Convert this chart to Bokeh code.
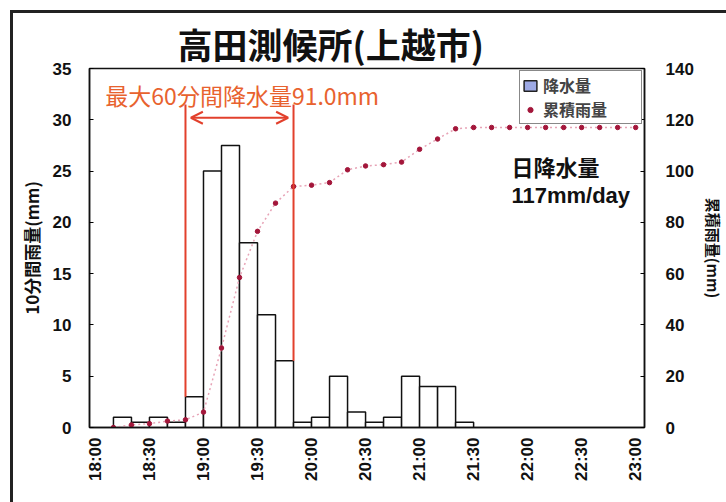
import math
from bokeh.plotting import figure
from bokeh.models import (Range1d, LinearAxis, FixedTicker, SingleIntervalTicker, ColumnDataSource,
                          Legend, LegendItem, Arrow, OpenHead, Label)
from bokeh.embed import file_html
from bokeh.resources import INLINE

# ---------------- data ----------------
bar_times = ["18:20", "18:30", "18:40", "18:50", "19:00", "19:10", "19:20", "19:30", "19:40", "19:50",
             "20:00", "20:10", "20:20", "20:30", "20:40", "20:50", "21:00", "21:10", "21:20", "21:30"]
rain_10min = [1.0, 0.5, 1.0, 0.5, 3.0, 25.0, 27.5, 18.0, 11.0, 6.5,
              0.5, 1.0, 5.0, 1.5, 0.5, 1.0, 5.0, 4.0, 4.0, 0.5]

cum_times = ["18:10", "18:20", "18:30", "18:40", "18:50", "19:00", "19:10", "19:20", "19:30", "19:40",
             "19:50", "20:00", "20:10", "20:20", "20:30", "20:40", "20:50", "21:00", "21:10", "21:20",
             "21:30", "21:40", "21:50", "22:00", "22:10", "22:20", "22:30", "22:40", "22:50", "23:00"]
cum_rain = [0.0, 1.0, 1.5, 2.5, 3.0, 6.0, 31.0, 58.5, 76.5, 87.5,
            94.0, 94.5, 95.5, 100.5, 102.0, 102.5, 103.5, 108.5, 112.5, 116.5,
            117.0, 117.0, 117.0, 117.0, 117.0, 117.0, 117.0, 117.0, 117.0, 117.0]

x_tick_labels = ["18:00", "18:30", "19:00", "19:30", "20:00", "20:30",
                 "21:00", "21:30", "22:00", "22:30", "23:00"]

peak_window = ["18:50", "19:50"]
peak_60min = 91.0
daily_total = 117

title_text = "高田測候所(上越市)"
left_title = "10分間雨量(mm)"
right_title = "累積雨量(mm)"
legend_labels = ["降水量", "累積雨量"]


def to_min(t):
    h, m = t.split(":")
    return int(h) * 60 + int(m) - 18 * 60


JP = "Noto Sans CJK JP"
NUM = "Liberation Sans"
RED = "#e2402c"

p = figure(width=713, height=489, output_backend="svg", toolbar_location=None,
           x_range=Range1d(-3.3, 304.9), y_range=Range1d(0, 35),
           min_border_left=76, min_border_right=74, min_border_top=55, min_border_bottom=75,
           background_fill_color="white", border_fill_color="white",
           styles={"margin-left": "13px", "margin-top": "13px",
                   "outline": "3px solid #222222"})
p.extra_y_ranges = {"cum": Range1d(0, 140)}
p.grid.visible = False
p.outline_line_color = "#111111"
p.outline_line_width = 1.5

# title
p.title.text = title_text
p.title.text_font = JP
p.title.text_font_size = "35px"
p.title.text_font_style = "bold"
p.title.text_color = "#111111"
p.title.align = "left"
p.title.offset = 88
p.title.standoff = 0

# x axis
xa = p.xaxis[0]
ticks = [to_min(t) for t in x_tick_labels]
xa.ticker = FixedTicker(ticks=ticks)
xa.major_label_overrides = {tk: lab for tk, lab in zip(ticks, x_tick_labels)}
xa.major_label_orientation = math.pi / 2
xa.major_label_text_font = NUM
xa.major_label_text_font_style = "bold"
xa.major_label_text_font_size = "17px"
xa.major_label_text_color = "#111111"
xa.major_label_standoff = 10
xa.major_tick_in = 0
xa.major_tick_out = 0
xa.minor_tick_line_color = None
xa.axis_line_color = "#111111"
xa.axis_line_width = 1.5

# left axis
ya = p.yaxis[0]
ya.ticker = SingleIntervalTicker(interval=5)
ya.axis_label = left_title
ya.axis_label_text_font = JP
ya.axis_label_text_font_size = "17px"
ya.axis_label_text_font_style = "bold"
ya.axis_label_text_color = "#111111"
ya.axis_label_standoff = 6
ya.major_label_text_font = NUM
ya.major_label_text_font_style = "bold"
ya.major_label_text_font_size = "17px"
ya.major_label_text_color = "#111111"
ya.major_label_standoff = 14
ya.major_tick_in = 4
ya.major_tick_out = 0
ya.minor_tick_line_color = None
ya.axis_line_color = "#111111"
ya.axis_line_width = 1.5

# right axis
ra = LinearAxis(y_range_name="cum", ticker=SingleIntervalTicker(interval=20))
ra.axis_label = right_title
ra.axis_label_text_font = JP
ra.axis_label_text_font_size = "15px"
ra.axis_label_text_font_style = "bold"
ra.axis_label_text_color = "#111111"
ra.axis_label_standoff = 6
ra.major_label_text_font = NUM
ra.major_label_text_font_style = "bold"
ra.major_label_text_font_size = "17px"
ra.major_label_text_color = "#111111"
ra.major_label_standoff = 17
ra.major_tick_in = 4
ra.major_tick_out = 0
ra.minor_tick_line_color = None
ra.axis_line_color = "#111111"
ra.axis_line_width = 1.5
p.add_layout(ra, "right")

# bars
bar_src = ColumnDataSource(dict(x=[to_min(t) - 5 for t in bar_times], top=rain_10min))
bars = p.vbar(x="x", top="top", width=10, source=bar_src,
              fill_color="white", line_color="#111111", line_width=1.5)
bars_key = p.vbar(x="x", top="top", width=10, source=bar_src,
                  fill_color="#9eaae6", line_color="#222222", line_width=1.5, visible=False)

# cumulative
cum_src = ColumnDataSource(dict(x=[to_min(t) for t in cum_times], y=cum_rain))
p.line(x="x", y="y", source=cum_src, y_range_name="cum",
       line_color="#e7a3b6", line_dash="2 3", line_width=1.5)
dots = p.scatter(x="x", y="y", source=cum_src, y_range_name="cum", size=4.5,
                 fill_color="#a3163a", line_color="#a3163a")

# 60-min peak annotation
w0, w1 = to_min(peak_window[0]), to_min(peak_window[1])
in_win = [v for t, v in zip(bar_times, rain_10min) if w0 < to_min(t) <= w1]
p.segment(x0=[w0, w1], y0=[in_win[0], in_win[-1]], x1=[w0, w1], y1=[31.5, 31.5],
          line_color=RED, line_width=2)
p.add_layout(Arrow(start=OpenHead(size=12, line_color=RED, line_width=2),
                   end=OpenHead(size=12, line_color=RED, line_width=2),
                   x_start=w0 + 3, x_end=w1 - 3, y_start=30.2, y_end=30.2,
                   line_color=RED, line_width=2))
p.add_layout(Label(x=5.5, y=32.4, text=f"最大60分間降水量{peak_60min:.1f}mm",
                   text_color="#e8622e", text_font=JP, text_font_size="23px",
                   text_baseline="middle", text_align="left"))

# daily total
p.add_layout(Label(x=231, y=25.5, text="日降水量", text_color="#111111", text_font=JP,
                   text_font_size="22px", text_font_style="bold", text_baseline="middle"))
p.add_layout(Label(x=231, y=22.6, text=f"{daily_total}mm/day", text_color="#111111", text_font=NUM,
                   text_font_size="22px", text_font_style="bold", text_baseline="middle"))

# legend
legend = Legend(items=[LegendItem(label=legend_labels[0], renderers=[bars_key]),
                       LegendItem(label=legend_labels[1], renderers=[dots])],
                location="top_right", orientation="vertical",
                label_text_font=JP, label_text_font_style="bold", label_text_font_size="16px",
                label_height=16, label_width=96, glyph_height=13, glyph_width=16,
                label_standoff=5, spacing=0, padding=2, margin=2,
                border_line_color="#111111", border_line_width=1.5,
                background_fill_color="white", background_fill_alpha=1.0)
p.add_layout(legend)

open("out.html", "w").write(file_html(p, INLINE))
